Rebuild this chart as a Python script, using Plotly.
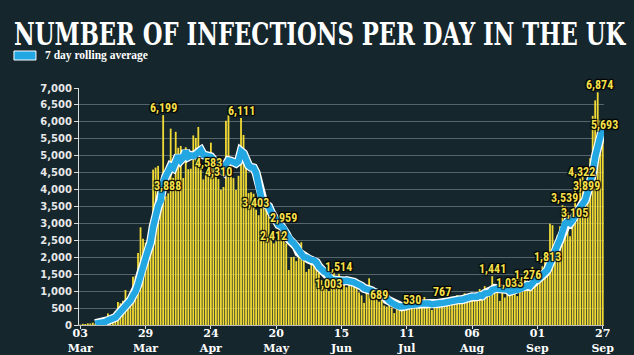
import pandas as pd
import plotly.graph_objects as go

# ---------------- data (daily lab-confirmed cases, UK) ----------------
cases_mar = [11, 34, 29, 48, 45, 69, 43, 62, 77, 130, 208, 342, 251, 152, 407,
             676, 643, 714, 1035, 665, 967, 1427, 1452, 2129, 2885, 2546, 2433,
             2619, 3009]                                   # 3-31 Mar
cases_apr = [4590, 4650, 4700, 3735, 6199, 3802, 3888, 5800, 4344, 5706,
             5234, 5288, 4342, 5252, 4603, 4617, 5599, 5526, 5850, 4676,
             4301, 4451, 4583, 5386, 4913, 4463, 4310, 3996, 4076, 6032]
cases_may = [6201, 4806, 4339, 3985, 4406, 6111, 5614, 4649, 3896, 3923,
             3877, 3403, 3242, 3446, 3560, 3450, 3534, 2684, 2412, 2472,
             2615, 3287, 2959, 2409, 1625, 2004, 2013, 1887, 2095, 2445, 1936]
cases_jun = [1570, 1653, 1871, 1805, 1650, 1557, 1326, 1205, 1387, 1003,
             1266, 1541, 1425, 1514, 1056, 1279, 1115, 1218, 1346, 1295,
             1221, 958, 874, 653, 1118, 1380, 890, 901, 815, 689]
cases_jul = [829, 576, 544, 624, 516, 352, 581, 630, 512, 642, 820, 650, 530,
             598, 538, 642, 687, 827, 580, 560, 445, 560, 769, 768, 767, 747,
             685, 581, 763, 846, 880]
cases_aug = [744, 743, 938, 670, 892, 950, 871, 758, 1062, 816, 1148, 1009,
             1012, 1441, 1084, 1040, 713, 1089, 812, 1182, 1033, 1288, 1041,
             853, 1184, 1048, 1522, 1276, 1108, 1715, 1406]
cases_sep = [1295, 1508, 1735, 1940, 1813, 2988, 2948, 2460, 2659, 2919,
             3539, 3497, 3330, 2621, 3105, 3991, 3395, 4322, 4422, 3899,
             4368, 4926, 6178, 6634, 6874, 6042, 5693]     # 1-27 Sep

start_date = "2020-03-03"
end_date = "2020-09-27"

# labelled days
label_dates = ["2020-04-05", "2020-04-07", "2020-04-23", "2020-04-27",
               "2020-05-06", "2020-05-12", "2020-05-23", "2020-05-19",
               "2020-06-14", "2020-06-10", "2020-06-30", "2020-07-13",
               "2020-07-25", "2020-08-14", "2020-08-21", "2020-08-28",
               "2020-09-05", "2020-09-11", "2020-09-15", "2020-09-18",
               "2020-09-20", "2020-09-25", "2020-09-27"]

tick_dates = ["2020-03-03", "2020-03-29", "2020-04-24", "2020-05-20",
              "2020-06-15", "2020-07-11", "2020-08-06", "2020-09-01",
              "2020-09-27"]
tick_text = ["03<br>Mar", "29<br>Mar", "24<br>Apr", "20<br>May", "15<br>Jun",
             "11<br>Jul", "06<br>Aug", "01<br>Sep", "27<br>Sep"]

y_ticks = list(range(0, 7001, 500))

title_text = "NUMBER OF INFECTIONS PER DAY IN THE UK"
legend_text = "7 day rolling average"

# ---------------- build ----------------
daily = (cases_mar + cases_apr + cases_may + cases_jun + cases_jul
         + cases_aug + cases_sep)
dates = pd.date_range(start_date, end_date, freq="D")
series = pd.Series(daily, index=dates)
rolling = series.rolling(7).mean()

BG = "#15262d"
YELLOW = "#f2da34"
BLUE = "#22a7e2"

fig = go.Figure()
fig.add_trace(go.Bar(x=dates, y=daily, marker=dict(color=YELLOW, line=dict(width=0)),
                     showlegend=False, hoverinfo="skip"))
fig.add_trace(go.Scatter(x=dates, y=rolling, mode="lines",
                         line=dict(color="white", width=9), showlegend=False,
                         hoverinfo="skip"))
fig.add_trace(go.Scatter(x=dates, y=rolling, mode="lines",
                         line=dict(color=BLUE, width=6.5), showlegend=False,
                         hoverinfo="skip"))

xshift = {"2020-04-07": -1, "2020-05-12": -1, "2020-09-11": 2,
          "2020-09-15": 2, "2020-09-18": 1, "2020-09-20": 1,
          "2020-09-25": 2, "2020-09-27": 2}
label_font = dict(family="Liberation Sans Narrow, Arial Narrow, Roboto Condensed, Roboto",
                  size=12, color="#f6e04a", weight="bold",
                  shadow="1px 1px 1px #000, -1px -1px 1px #000, 1px -1px 1px #000, -1px 1px 1px #000")
for d in label_dates:
    v = int(series[pd.Timestamp(d)])
    fig.add_annotation(x=d, y=v, text=f"{v:,}", showarrow=False,
                       xanchor="center", yanchor="middle",
                       xshift=xshift.get(d, 0), yshift=7, font=label_font)

# legend swatch + text (paper coords relative to plot area)
L, T, W, H = 79, 88, 524.6, 237
def px(xp):
    return (xp - L) / W
def py(yp):
    return (T + H - yp) / H

fig.add_shape(type="rect", xref="paper", yref="paper",
              x0=px(14), x1=px(36), y0=py(60), y1=py(51),
              fillcolor=BLUE, line=dict(color="white", width=1))
fig.add_annotation(xref="paper", yref="paper", x=px(43), y=py(55.5),
                   xanchor="left", yanchor="middle", showarrow=False,
                   text=legend_text,
                   font=dict(family="Liberation Serif", size=11.5, color="white",
                             weight="bold"))

fig.update_layout(
    width=634, height=355,
    margin=dict(l=L, r=634 - L - W, t=T, b=355 - T - H, autoexpand=False),
    paper_bgcolor=BG, plot_bgcolor="rgba(0,0,0,0)",
    bargap=0.28,
    title=dict(text=title_text, xref="container", yref="container",
               x=14 / 634, xanchor="left", y=1 - 45.5 / 355, yanchor="bottom",
               font=dict(family="DejaVu Serif", size=22.7, color="white",
                         weight="bold")),
    xaxis=dict(type="date", automargin=False,
               range=["2020-03-02 12:00", "2020-09-27 12:00"],
               tickvals=tick_dates, ticktext=tick_text,
               tickfont=dict(family="DejaVu Serif", size=11, color="white",
                             weight="bold"),
               ticks="outside", ticklen=3, tickcolor="#dddddd",
               ticklabelstandoff=-5,
               showgrid=False, showline=True, linecolor="#bbbbbb",
               linewidth=1, zeroline=False),
    yaxis=dict(range=[0, 7000], tickvals=y_ticks, tickformat=",",
               automargin=False,
               tickfont=dict(family="DejaVu Sans", size=10, color="#e8e8e8",
                             weight="bold"),
               ticks="outside", ticklen=4, tickcolor="#dddddd",
               showline=True, linecolor="#dddddd", linewidth=1,
               showgrid=True, gridcolor="#56656b", gridwidth=1,
               zeroline=False),
)

post = """
document.documentElement.style.margin = '0';
document.body.style.margin = '0';
document.body.style.background = '""" + BG + """';
var gd = document.getElementById('{plot_id}');
function stretchTitle(){
  var t = gd.querySelector('.gtitle');
  if(!t) return;
  var y = parseFloat(t.getAttribute('y'));
  t.setAttribute('transform','translate(0,'+y+') scale(1,1.42) translate(0,'+(-y)+')');
}
stretchTitle();
gd.on('plotly_afterplot', stretchTitle);
"""
fig.write_html("out.html", post_script=post,
               config={"displayModeBar": False, "staticPlot": True})
